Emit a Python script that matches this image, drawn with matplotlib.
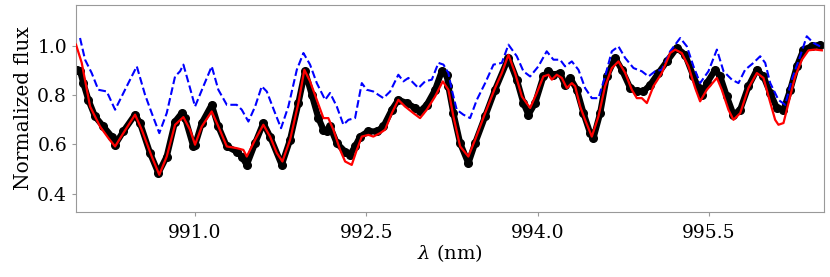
import matplotlib
matplotlib.use("Agg")
import matplotlib.pyplot as plt

plt.rcParams["font.family"] = "DejaVu Serif"
plt.rcParams["mathtext.fontset"] = "dejavuserif"

# observed spectrum (black dots)
obs_wl = [989.964, 989.993, 990.022, 990.066, 990.124, 990.197, 990.271, 990.300,
          990.372, 990.475, 990.518, 990.606, 990.679, 990.752, 990.825, 990.884,
          990.913, 990.985, 991.000, 991.059, 991.146, 991.204, 991.278, 991.365,
          991.409, 991.453, 991.526, 991.598, 991.657, 991.759, 991.832, 991.905,
          991.963, 992.022, 992.080, 992.124, 992.154, 992.182, 992.241, 992.314,
          992.357, 992.401, 992.445, 992.518, 992.591, 992.649, 992.723, 992.780,
          992.854, 992.927, 992.970, 993.029, 993.102, 993.160, 993.204, 993.218,
          993.262, 993.321, 993.393, 993.452, 993.540, 993.627, 993.744, 993.817,
          993.875, 993.919, 993.978, 994.050, 994.094, 994.138, 994.196, 994.240,
          994.284, 994.343, 994.401, 994.459, 994.488, 994.547, 994.605, 994.678,
          994.737, 994.810, 994.868, 994.926, 994.985, 995.057, 995.131, 995.218,
          995.291, 995.364, 995.408, 995.437, 995.481, 995.554, 995.598, 995.656,
          995.714, 995.773, 995.845, 995.919, 995.977, 996.036, 996.094, 996.152,
          996.211, 996.269, 996.327, 996.400, 996.473]
obs_flux = [0.902, 0.898, 0.848, 0.780, 0.713, 0.672, 0.631, 0.598,
            0.652, 0.720, 0.686, 0.564, 0.483, 0.550, 0.692, 0.726,
            0.706, 0.591, 0.596, 0.686, 0.760, 0.672, 0.591, 0.570,
            0.550, 0.516, 0.604, 0.686, 0.631, 0.516, 0.618, 0.767,
            0.896, 0.801, 0.706, 0.659, 0.652, 0.672, 0.604, 0.570,
            0.557, 0.591, 0.631, 0.652, 0.652, 0.672, 0.740, 0.780,
            0.767, 0.747, 0.733, 0.760, 0.821, 0.896, 0.882, 0.835,
            0.726, 0.604, 0.523, 0.604, 0.713, 0.821, 0.950, 0.862,
            0.767, 0.720, 0.767, 0.875, 0.896, 0.882, 0.889, 0.841,
            0.869, 0.821, 0.726, 0.645, 0.625, 0.726, 0.875, 0.950,
            0.902, 0.828, 0.814, 0.814, 0.841, 0.889, 0.936, 0.991,
            0.963, 0.875, 0.828, 0.801, 0.848, 0.902, 0.875, 0.794,
            0.720, 0.740, 0.835, 0.902, 0.875, 0.808, 0.747, 0.740,
            0.821, 0.916, 0.984, 0.997, 1.004]

# best-fit model (red)
fit_wl = [989.958, 990.008, 990.081, 990.168, 990.241, 990.300, 990.372, 990.475,
          990.533, 990.621, 990.687, 990.752, 990.825, 990.898, 990.956, 991.000,
          991.059, 991.146, 991.204, 991.278, 991.365, 991.423, 991.453, 991.526,
          991.598, 991.657, 991.716, 991.765, 991.832, 991.905, 991.957, 992.007,
          992.066, 992.124, 992.167, 992.211, 992.270, 992.314, 992.372, 992.416,
          992.460, 992.518, 992.561, 992.620, 992.664, 992.723, 992.780, 992.839,
          992.912, 992.970, 993.029, 993.102, 993.169, 993.218, 993.262, 993.321,
          993.393, 993.452, 993.540, 993.627, 993.686, 993.744, 993.802, 993.861,
          993.934, 993.992, 994.050, 994.094, 994.124, 994.167, 994.211, 994.255,
          994.299, 994.328, 994.372, 994.415, 994.474, 994.532, 994.590, 994.649,
          994.707, 994.766, 994.824, 994.868, 994.912, 994.956, 995.013, 995.087,
          995.160, 995.204, 995.262, 995.320, 995.379, 995.422, 995.481, 995.569,
          995.612, 995.670, 995.714, 995.773, 995.845, 995.919, 995.977, 996.021,
          996.079, 996.108, 996.152, 996.196, 996.254, 996.313, 996.371, 996.429,
          996.488]
fit_flux = [1.004, 0.930, 0.753, 0.672, 0.625, 0.591, 0.645, 0.720,
            0.659, 0.550, 0.476, 0.550, 0.679, 0.710, 0.659, 0.598,
            0.672, 0.733, 0.672, 0.591, 0.584, 0.577, 0.550, 0.618,
            0.679, 0.631, 0.564, 0.530, 0.618, 0.767, 0.902, 0.855,
            0.780, 0.706, 0.706, 0.659, 0.577, 0.530, 0.516, 0.577,
            0.631, 0.638, 0.631, 0.645, 0.659, 0.726, 0.780, 0.753,
            0.726, 0.706, 0.740, 0.794, 0.855, 0.821, 0.713, 0.591,
            0.550, 0.618, 0.726, 0.828, 0.889, 0.963, 0.889, 0.794,
            0.747, 0.808, 0.875, 0.882, 0.862, 0.882, 0.869, 0.828,
            0.848, 0.835, 0.753, 0.699, 0.631, 0.713, 0.835, 0.909,
            0.936, 0.889, 0.821, 0.787, 0.787, 0.767, 0.835, 0.889,
            0.970, 0.984, 0.970, 0.916, 0.828, 0.774, 0.821, 0.869,
            0.821, 0.740, 0.699, 0.726, 0.828, 0.889, 0.869, 0.794,
            0.699, 0.679, 0.686, 0.767, 0.875, 0.943, 0.981, 0.984,
            0.981]

# comparison model (blue dashed)
alt_wl = [989.993, 990.037, 990.095, 990.153, 990.227, 990.300, 990.402, 990.490,
          990.562, 990.621, 990.687, 990.752, 990.825, 990.869, 990.898, 990.956,
          991.000, 991.073, 991.146, 991.204, 991.278, 991.365, 991.409, 991.467,
          991.526, 991.584, 991.628, 991.701, 991.753, 991.817, 991.891, 991.949,
          992.007, 992.066, 992.095, 992.139, 992.182, 992.241, 992.299, 992.343,
          992.401, 992.460, 992.503, 992.561, 992.649, 992.708, 992.780, 992.824,
          992.868, 992.956, 993.014, 993.073, 993.131, 993.175, 993.218, 993.248,
          993.291, 993.349, 993.408, 993.467, 993.540, 993.613, 993.686, 993.744,
          993.817, 993.875, 993.934, 994.006, 994.079, 994.138, 994.196, 994.240,
          994.299, 994.357, 994.415, 994.474, 994.532, 994.590, 994.649, 994.707,
          994.766, 994.839, 994.912, 994.970, 995.028, 995.087, 995.160, 995.248,
          995.306, 995.364, 995.422, 995.495, 995.569, 995.627, 995.700, 995.758,
          995.816, 995.889, 995.948, 995.992, 996.036, 996.108, 996.167, 996.225,
          996.298, 996.356, 996.414, 996.473]
alt_flux = [1.031, 0.943, 0.889, 0.821, 0.814, 0.740, 0.835, 0.916,
            0.801, 0.726, 0.645, 0.726, 0.875, 0.896, 0.923, 0.828,
            0.753, 0.835, 0.916, 0.821, 0.760, 0.760, 0.740, 0.692,
            0.753, 0.835, 0.814, 0.726, 0.665, 0.753, 0.902, 0.970,
            0.923, 0.848, 0.821, 0.780, 0.808, 0.753, 0.679, 0.699,
            0.706, 0.848, 0.821, 0.814, 0.787, 0.814, 0.882, 0.855,
            0.869, 0.828, 0.855, 0.862, 0.930, 0.923, 0.889, 0.821,
            0.740, 0.720, 0.706, 0.780, 0.848, 0.923, 0.930, 1.004,
            0.957, 0.896, 0.875, 0.916, 0.977, 0.943, 0.943, 0.916,
            0.936, 0.902, 0.828, 0.787, 0.787, 0.875, 0.977, 0.997,
            0.950, 0.909, 0.896, 0.875, 0.896, 0.902, 0.977, 1.031,
            0.997, 0.916, 0.848, 0.896, 0.984, 0.896, 0.862, 0.848,
            0.902, 0.930, 0.957, 0.930, 0.848, 0.780, 0.760, 0.862,
            0.957, 1.038, 1.011, 0.997]

xticks = [991.0, 992.5, 994.0, 995.5]
yticks = [0.4, 0.6, 0.8, 1.0]

fig = plt.figure(figsize=(8.3, 2.77), dpi=100)
ax = fig.add_axes([0.0916, 0.2347, 0.9012, 0.7473])

ax.plot(obs_wl, obs_flux, color="black", lw=4.5, solid_capstyle="round",
        solid_joinstyle="round", zorder=1)
ax.plot(obs_wl, obs_flux, "o", color="black", ms=5.5, zorder=1)
ax.plot(alt_wl, alt_flux, "--", color="blue", lw=1.5, zorder=2)
ax.plot(fit_wl, fit_flux, "-", color="red", lw=1.6, zorder=3)

ax.set_xlim(989.958, 996.507)
ax.set_ylim(0.325, 1.165)
ax.set_xticks(xticks)
ax.set_xticklabels([f"{t:.1f}" for t in xticks])
ax.set_yticks(yticks)
ax.set_yticklabels([f"{t:.1f}" for t in yticks])
ax.tick_params(labelsize=13.5, color="#999999", length=3)
ax.tick_params(axis="x", pad=5.5)
for s in ax.spines.values():
    s.set_color("#999999")

ax.set_xlabel(r"$\lambda$ (nm)", fontsize=14, labelpad=0)
ax.set_ylabel("Normalized flux", fontsize=14.5, labelpad=3)

fig.savefig("out.png", dpi=100)
